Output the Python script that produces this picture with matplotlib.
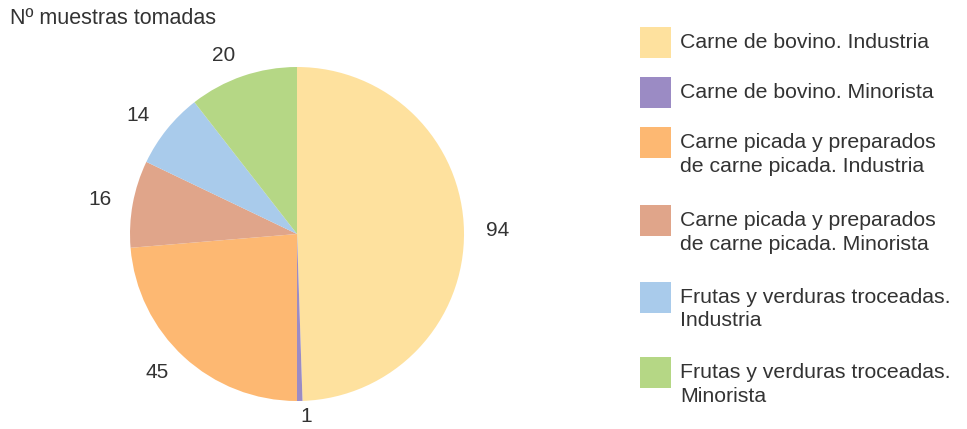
import matplotlib.pyplot as plt
from matplotlib.patches import Rectangle

categories = [
    "Carne de bovino. Industria",
    "Carne de bovino. Minorista",
    "Carne picada y preparados\nde carne picada. Industria",
    "Carne picada y preparados\nde carne picada. Minorista",
    "Frutas y verduras troceadas.\nIndustria",
    "Frutas y verduras troceadas.\nMinorista",
]
values = [94, 1, 45, 16, 14, 20]
colors = ["#FEE19E", "#9B8BC4", "#FDB872", "#E0A58A", "#A9CBEB", "#B5D785"]

plt.rcParams['font.family'] = ['Liberation Sans', 'DejaVu Sans']
W, H = 967, 429
fig = plt.figure(figsize=(W / 100, H / 100), dpi=100)

# pie centre and radius in pixels
cx, cy, r = 297, 234, 167
lim = 1.3
side = 2 * lim * r
ax = fig.add_axes([(cx - side / 2) / W, (H - cy - side / 2) / H, side / W, side / H])
wedges, texts = ax.pie(values, colors=colors, startangle=90, counterclock=False,
                       labels=[str(v) for v in values], labeldistance=1.13,
                       wedgeprops=dict(linewidth=0),
                       textprops=dict(fontsize=15, color="#333333"))
# the small slice label sits at the bottom edge, pull it in a bit so it isn't cut
x1, y1 = texts[1].get_position()
texts[1].set_position((x1, y1 * 1.095 / 1.13))
ax.set_xlim(-lim, lim)
ax.set_ylim(-lim, lim)
ax.set_aspect('equal')
ax.axis('off')

fig.text(10 / W, 1 - 18 / H, "Nº muestras tomadas", fontsize=15.5, color="#333333",
         va='center', ha='left')

# legend: patch centres in pixels
rows_y = [42, 92, 142, 220, 297, 372]
for lab, col, y in zip(categories, colors, rows_y):
    fig.patches.append(Rectangle((640 / W, 1 - (y + 15.5) / H), 31 / W, 31 / H,
                                 facecolor=col, edgecolor='none',
                                 transform=fig.transFigure))
    fig.text(680 / W, 1 - (y - 9) / H, lab, fontsize=15.3, color="#333333",
             va='top', ha='left', linespacing=1.3)

fig.savefig("out.png", dpi=100)
